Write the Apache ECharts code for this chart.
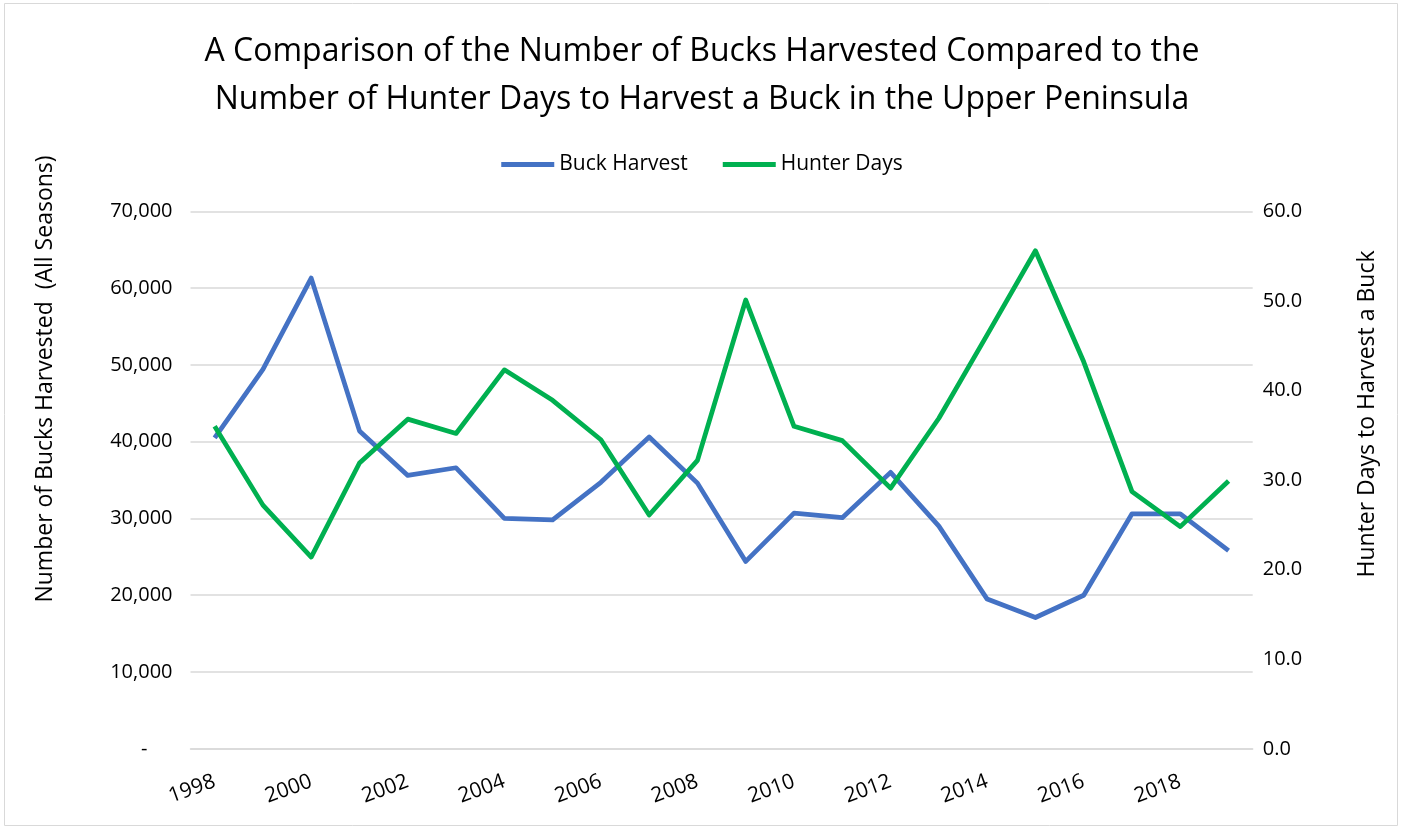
<!DOCTYPE html>
<html><head><meta charset="utf-8">
<script src="https://cdn.jsdelivr.net/npm/echarts@6/dist/echarts.min.js"></script>
<style>html,body{margin:0;padding:0;background:#fff}#c{width:1404px;height:829px}</style>
</head><body><div id="c"></div>
<script>
const years = ['1998','1999','2000','2001','2002','2003','2004','2005','2006','2007','2008','2009','2010','2011','2012','2013','2014','2015','2016','2017','2018','2019'];
const buckHarvest = [40500,49400,61300,41400,35600,36600,30000,29800,34700,40600,34600,24400,30700,30100,36000,29000,19500,17100,20000,30600,30600,25800];
const hunterDays = [36.0,27.2,21.4,31.9,36.8,35.2,42.3,38.9,34.5,26.1,32.2,50.1,36.0,34.4,29.1,36.9,46.2,55.6,43.2,28.7,24.8,29.9];
const leftTicks = {min:0, max:70000, interval:10000};
const rightTicks = {min:0, max:60, interval:10};
const leftTitle = 'Number of Bucks Harvested  (All Seasons)';
const rightTitle = 'Hunter Days to Harvest a Buck';

const FONT = '"Open Sans", "Noto Sans", sans-serif';
const chart = echarts.init(document.getElementById('c'));
chart.setOption({
  animation:false,
  textStyle:{fontFamily:FONT},
  graphic:[
    {type:'rect',shape:{x:4.5,y:3.5,width:1393,height:822},style:{fill:'none',stroke:'#d9d9d9',lineWidth:1}},
    {type:'text',x:45,y:379,rotation:Math.PI/2,style:{text:leftTitle,font:'23px '+FONT,fill:'#000',align:'center',verticalAlign:'middle'}},
    {type:'text',x:1367,y:414,rotation:Math.PI/2,style:{text:rightTitle,font:'23px '+FONT,fill:'#000',align:'center',verticalAlign:'middle'}}
  ],
  title:{
    text:'A Comparison of the Number of Bucks Harvested Compared to the\nNumber of Hunter Days to Harvest a Buck in the Upper Peninsula',
    left:'center', top:23,
    textStyle:{fontFamily:FONT,fontSize:32,fontWeight:'normal',color:'#000',lineHeight:48}
  },
  legend:{
    top:149, left:'center', itemWidth:53, itemHeight:5, itemGap:35, icon:'rect',
    textStyle:{fontFamily:FONT,fontSize:21,color:'#000'},
    data:['Buck Harvest','Hunter Days']
  },
  grid:{left:190.5,right:151.3,top:211.3,bottom:80.2,containLabel:false},
  xAxis:{
    type:'category', data:years, boundaryGap:true,
    axisLine:{show:true,lineStyle:{color:'#d9d9d9',width:1.5}},
    axisTick:{show:false},
    axisLabel:{interval:1,rotate:20,fontSize:21,color:'#000',fontFamily:FONT,margin:32}
  },
  yAxis:[{
    type:'value', min:leftTicks.min, max:leftTicks.max, interval:leftTicks.interval,
    axisLine:{show:false}, axisTick:{show:false},
    splitLine:{lineStyle:{color:'#d9d9d9',width:1.5}},
    axisLabel:{fontSize:20,color:'#000',fontFamily:FONT,margin:18,
      formatter:v=> v===0 ? '{d|-}' : v.toLocaleString('en-US'),
      rich:{d:{fontSize:20,color:'#000',fontFamily:FONT,padding:[0,25,0,0]}}}
  },{
    type:'value', min:rightTicks.min, max:rightTicks.max, interval:rightTicks.interval,
    axisLine:{show:false}, axisTick:{show:false}, splitLine:{show:false},
    axisLabel:{fontSize:20,color:'#000',fontFamily:FONT,margin:10,formatter:v=>v.toFixed(1)}
  }],
  series:[{
    name:'Buck Harvest', type:'line', data:buckHarvest, yAxisIndex:0,
    symbol:'none', lineStyle:{color:'#4472C4',width:4.75,join:'round'}, itemStyle:{color:'#4472C4'}
  },{
    name:'Hunter Days', type:'line', data:hunterDays, yAxisIndex:1,
    symbol:'none', lineStyle:{color:'#00B050',width:4.75,join:'round'}, itemStyle:{color:'#00B050'}
  }]
});
</script></body></html>
